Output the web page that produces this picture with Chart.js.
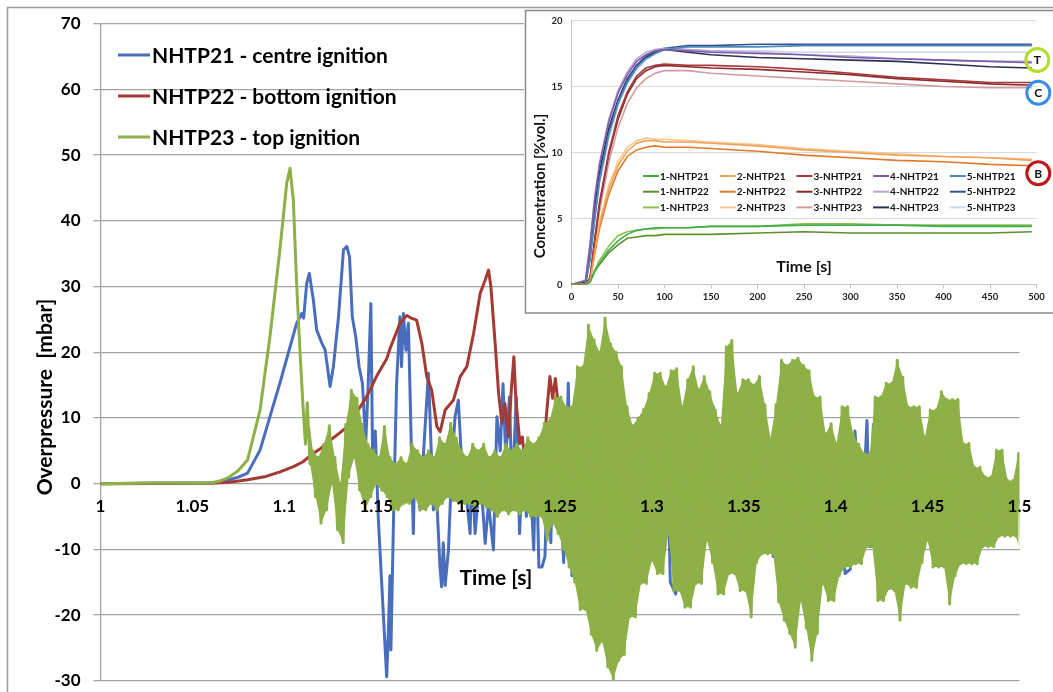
<!DOCTYPE html>
<html>
<head>
<meta charset="utf-8">
<script src="https://cdn.jsdelivr.net/npm/chart.js@4.4.0/dist/chart.umd.min.js"></script>
<style>
  html,body{margin:0;padding:0;background:#fff;}
  #wrap{position:relative;width:1053px;height:692px;overflow:hidden;}
  #main{position:absolute;left:0;top:0;}
  #inset{position:absolute;left:524px;top:9px;}
</style>
</head>
<body>
<div id="wrap">
  <canvas id="main" width="1053" height="704"></canvas>
  <canvas id="inset" width="529" height="306"></canvas>
</div>
<script>
// ---------- main chart: overpressure [mbar] vs time [s] ----------
const seriesNames = ['NHTP21 - centre ignition', 'NHTP22 - bottom ignition', 'NHTP23 - top ignition'];

const blueT = [1.000,1.030,1.060,1.065,1.070,1.075,1.080,1.0868,1.0922,1.0976,1.1031,1.1067,1.1095,1.1105,1.1122,1.1136,1.1158,1.1176,1.1204,1.1222,
  1.1249,1.1267,1.1295,1.1322,1.1340,1.1355,1.1370,1.1389,1.1407,1.1425,1.1443,1.1455,1.1471,1.1480,1.1495,1.1511,1.1530,1.1557,1.1566,1.1575,
  1.1580,1.1598,1.1611,1.1629,1.1638,1.1648,1.1662,1.1675,1.1684,1.1693,1.1702,1.1711,1.1738,1.1756,1.1784,1.1793,1.1811,1.1829,1.1847,1.1856,
  1.1865,1.1875,1.1893,1.1911,1.1929,1.1947,1.1965,1.1984,1.2011,1.2020,1.2038,1.2066,1.2093,1.2111,1.2138,1.2157,1.2175,1.2190,1.2205,1.2225,
  1.2240,1.2262,1.2280,1.2298,1.2317,1.2335,1.2357,1.2370,1.2385,1.2402,1.2418,1.2435,1.2450,1.2465,1.2493,1.2505,1.2520,1.2545,1.2565,1.2600,
  1.2640,1.2680,1.2720,1.2760,1.2800,1.2840,1.2885,1.2920,1.2950,1.2990,1.3030,1.3080,1.3100,1.3130,1.3160,1.3200,1.3240,1.3280,1.3334,1.3370,
  1.3410,1.3450,1.3500,1.3550,1.3600,1.3630,1.3660,1.3695,1.3730,1.3780,1.3830,1.3880,1.3933,1.3970,1.4010,1.4051,1.4080,1.4105,1.4140,1.4170,
  1.4187,1.4205,1.4240,1.4300,1.4360,1.4420,1.4480,1.4550,1.4620,1.4700,1.4800,1.4900,1.5000];
const blueV = [0,0.1,0.1,0.3,0.6,1.0,1.6,5.1,10.2,15.3,20.8,24.4,25.9,25.2,30.5,32.0,28.0,23.4,21.4,20.4,
  14.8,17.8,25.4,35.6,36.1,34.5,25.4,22.3,17.8,15.3,6.2,14,27.4,5.1,8,-5,-15.2,-29.4,-22.8,-14,
  -25.3,0,15.2,25.4,17.8,25.9,20.3,24.4,14.2,3.1,-7.6,5.1,-4,4,16.8,10,-4,-2,-12.7,-15.7,
  -9,-15.5,-10.1,2.6,10.2,12.7,3.1,0,-7.6,3,-7.6,2,-9.1,-3,-10.1,10.2,5,15.2,4,13.2,
  -2,13.2,-7.6,4,-5,3,-10.1,6,-12.7,-12.7,-11.1,4,-9,8,8,-3,-12,15.3,-14,12,
  -18,14,-14,10,-12,9,-9.5,8,-10,11,-9,12.2,-15,-16.8,9,-12,12,-9,11.7,-12,
  12,-12,10,-12,6,7.1,-11.1,7.1,-14,12,-15,10,6.1,-10,6,-13.7,-13,8,-9,9.6,
  -9.6,9,-12,10,-10,9,-10,6,-7,3,-5,2,-3];

const redT = [1.000,1.060,1.070,1.080,1.090,1.0977,1.105,1.110,1.1157,1.120,1.125,1.130,1.134,1.138,1.143,1.1466,1.1503,1.1557,1.1576,1.1629,
  1.1666,1.169,1.172,1.1748,1.1775,1.1802,1.183,1.1848,1.1875,1.192,1.1957,1.1993,1.203,1.2066,1.2093,1.2111,1.2124,1.2147,1.2166,1.2184,
  1.2200,1.2220,1.2235,1.2249,1.2260,1.2282,1.2295,1.2310,1.2340,1.2370,1.2400,1.2425,1.2445,1.2460,1.2475,1.2490,1.2505,1.2520,1.2535,1.2560,1.2600];
const redV = [0,0.05,0.2,0.6,1.1,1.8,2.6,3.3,4.6,5.4,6.6,7.7,8.6,10.3,12.4,14.2,16.4,19,20.6,24.4,
  25.6,25.2,24.9,21.4,16.3,14.2,8.7,7.9,11.2,12.7,16.3,17.8,22.9,29,31,32.5,30,21.4,13.7,9.2,
  12.2,7.1,14.2,19.3,12.7,6.1,7.1,3,-2,4,-4.5,10,16.3,13,16,12,5,-5.5,2,-3,2];

// green: clean pulse, then the noisy tail read as local max / min pairs
const greenT = [1.000,1.030,1.060,1.065,1.070,1.075,1.080,1.0868,1.0922,1.0976,1.1013,1.1031,1.1049,1.1067,1.1085,1.1103,1.1115];
const greenV = [0,0.1,0.1,0.4,1.0,2.0,3.6,11.2,22.4,35.6,45.7,48.0,43.2,30.5,20.3,11.2,6];
const noiseStart = 1.1125, noiseStep = 0.003;
const greenHi = [12.3,5,4,6,8.8,4,0,9,14.2,13, 9,6,5,4,8.7,4,3,4,3,6, 5,4,5,4,7,6,9.2,7,5,4, 6,5,6,4,5,4,6,5,6,5,
  7,6,7,9.2,9.7,13.2,13.2,11.7,11.7,17.8, 17.8,24.1,21.9,20,25.2,21.3,20,17.8,11.7,8.8, 10,11.3,13.7,16.8,16.8,14.7,17.2,17.5,11.7,15.8,
  17.8,14.3,16.3,14,11.2,8.8,20.8,21.8,13.7,15.8, 15.8,15,16.3,12,6.9,12,18.8,18,18.8,19.1, 18,17.2,13.2,13.2,7.6,9.1,6.1,11.7,11.7,7.6,
  6,4.6,4.6,13.2,13.2,15.3,15.3,18.8,16.2,11.7, 11.7,11.7,7.1,11.2,11.2,14,12.8,12.8,12.8,6.1, 6.1,2.5,2.5,1,1,5.1,5.1,0.5,0.5,4.6];
const greenLo = [3,-2,-6,-4,0,-7,-9,1,4,-1, -4,-2,0,-1,-2,-4,-4,-3,-3,-2, -4,-4,-3,-4,-3,-2,-2.6,-3,-3,-3, -3.6,-3,-3.6,-4,-5,-4,-4.6,-4,-4.6,-4,
  -5,-5,-5,-8.6,-6,-7.6,-10,-12.7,-15,-19.2, -19.2,-22.9,-25.4,-24,-27.9,-29.8,-26.9,-26,-20.3,-20.3, -15.2,-15.2,-11.7,-13.7,-13.7,-7.6,-16.3,-16.3,-18.8,-18.8,
  -15.2,-15.2,-8.6,-12,-16.8,-16.8,-13.7,-13.7,-16.3,-16.3, -20.3,-12,-10.7,-10.7,-10.7,-18,-20.8,-22.8,-24.9,-17.8, -22,-26.9,-22.8,-15.2,-17.8,-17.8,-14,-12.7,-12.7,-12.2,
  -12.2,-9.6,-9.6,-17.8,-17.8,-16,-16.3,-20.8,-15.2,-15.8, -15.8,-12,-8.6,-12.7,-12.7,-12.7,-18.3,-14,-12.2,-12.2, -12.2,-12.2,-9.6,-9.6,-9.6,-8,-8,-8,-8,-10.7];

const yTicks = {min: -30, max: 70, step: 10};
const xTicks = {min: 1, max: 1.5, step: 0.05};

// ---------- inset: concentration [%vol.] vs time [s] ----------
const insetTimes = [0,15,20,25,30,40,50,60,70,80,90,100,125,150,200,250,300,350,400,450,495];
const c21_1 = [0,0,0.2,1,1.6,2.6,3.3,3.8,4.1,4.2,4.3,4.3,4.3,4.4,4.4,4.5,4.5,4.5,4.4,4.4,4.4];
const c21_2 = [0,0,0.3,2.5,4.5,7.2,9,10.1,10.7,10.9,10.9,10.8,10.8,10.7,10.5,10.2,10.0,9.8,9.7,9.6,9.4];
const c21_3 = [0,0,0.5,3.5,6.2,10,12.8,14.6,15.8,16.4,16.6,16.7,16.6,16.6,16.5,16.3,16.0,15.7,15.5,15.3,15.3];
const c21_4 = [0,0.3,3,6.5,9,12.3,14.5,15.9,16.9,17.4,17.7,17.8,17.7,17.6,17.5,17.4,17.2,17.1,17.0,16.9,16.8];
const c21_5 = [0,0,2,5,7.8,11.3,13.7,15.3,16.4,17.1,17.5,17.8,18.0,18.0,18.0,18.1,18.1,18.1,18.1,18.1,18.1];
const c22_1 = [0,0,0.2,1,1.5,2.4,3.0,3.5,3.6,3.7,3.7,3.8,3.8,3.8,3.9,4.0,3.9,3.9,3.9,3.9,4.0];
const c22_2 = [0,0,0.3,2.3,4.2,6.8,8.6,9.7,10.2,10.4,10.5,10.4,10.4,10.3,10.1,9.8,9.6,9.4,9.3,9.1,9.0];
const c22_3 = [0,0,0.5,3.3,6,9.8,12.5,14.4,15.6,16.2,16.5,16.6,16.5,16.4,16.3,16.1,15.9,15.6,15.4,15.2,15.1];
const c22_4 = [0,0.3,3.2,6.7,9.2,12.5,14.7,16.1,17.1,17.6,17.8,17.9,17.8,17.7,17.6,17.4,17.3,17.1,17.0,16.9,16.9];
const c22_5 = [0,0,2,5.2,8,11.5,13.9,15.5,16.6,17.3,17.7,17.9,18.1,18.1,18.2,18.2,18.2,18.2,18.2,18.2,18.2];
const c23_1 = [0,0,0.2,1.1,1.8,2.9,3.7,4.0,4.1,4.2,4.2,4.3,4.3,4.4,4.4,4.6,4.6,4.5,4.5,4.5,4.5];
const c23_2 = [0,0,0.4,2.6,4.7,7.5,9.3,10.4,10.9,11.1,11.0,11.0,10.9,10.8,10.6,10.3,10.1,9.9,9.7,9.6,9.5];
const c23_3 = [0,0,0.4,3,5.5,9.2,11.9,13.7,14.9,15.6,16.0,16.2,16.2,16.0,15.8,15.6,15.4,15.2,15.0,14.9,14.9];
const c23_4 = [0,0.2,2.5,6,8.5,11.8,14,15.6,16.6,17.2,17.6,17.8,17.6,17.4,17.2,17.1,17.0,16.9,16.7,16.5,16.4];
const c23_5 = [0,0,1.8,4.8,7.5,11,13.5,15.2,16.3,17.0,17.5,17.8,17.8,17.7,17.7,17.6,17.6,17.6,17.6,17.6,17.6];
const insetNames = ['1-NHTP21','2-NHTP21','3-NHTP21','4-NHTP21','5-NHTP21',
                    '1-NHTP22','2-NHTP22','3-NHTP22','4-NHTP22','5-NHTP22',
                    '1-NHTP23','2-NHTP23','3-NHTP23','4-NHTP23','5-NHTP23'];
const insetSeries = [c21_1,c21_2,c21_3,c21_4,c21_5, c22_1,c22_2,c22_3,c22_4,c22_5, c23_1,c23_2,c23_3,c23_4,c23_5];
const insetMarks = ['T','C','B'];

// ---------- styles ----------
const mainColors = ['#4a6ebe', '#a53a34', '#8db047'];
const insetColors = ['#3fae49','#f0a35a','#a8383a','#7a5ca8','#4a8fb3',
                     '#5e8f2c','#e07a2a','#8a2b2e','#b9a6d6','#3a4f9c',
                     '#8cc152','#f6c890','#d39b9b','#2b2f55','#c9d7ee'];
const markColors = ['#b5dd2e','#3a8ee6','#c0171b'];
const FONT = 'Lato';

function pts(ts, vs){ return ts.map((t,i)=>({x:t,y:vs[i]})); }

const greenNoise = [];
greenHi.forEach((h,i)=>{
  const t = noiseStart + i*noiseStep;
  greenNoise.push({x:t, y:h});
  greenNoise.push({x:t + noiseStep/2, y:greenLo[i]});
});
const greenData = pts(greenT, greenV).concat(greenNoise);
const bandHi = greenHi.map((h,i)=>({x:noiseStart + i*noiseStep, y:h}));
const bandLo = greenLo.map((l,i)=>({x:noiseStart + i*noiseStep + noiseStep/2, y:l}));

const mainDecor = {
  id:'mainDecor',
  beforeDraw(chart){
    const c = chart.ctx;
    c.save();
    c.fillStyle = '#fff'; c.fillRect(0,0,chart.width,chart.height);
    c.strokeStyle = '#9a9a9a'; c.lineWidth = 1.5;
    c.beginPath(); c.moveTo(7.5,chart.height); c.lineTo(7.5,7.5); c.lineTo(chart.width,7.5); c.stroke();
    c.restore();
  },
  afterDraw(chart){
    const c = chart.ctx;
    c.save();
    c.fillStyle = '#000';
    c.font = 'bold 21px ' + FONT;
    c.textAlign = 'center'; c.textBaseline = 'middle';
    c.fillText('Time [s]', 496, 578);
    c.save();
    c.translate(45, 397); c.rotate(-Math.PI/2);
    c.fillText('Overpressure  [mbar]', 0, 0);
    c.restore();
    // legend
    c.textAlign = 'left';
    seriesNames.forEach((name,i)=>{
      const y = 55 + i*41;
      c.strokeStyle = mainColors[i]; c.lineWidth = 3;
      c.beginPath(); c.moveTo(118,y); c.lineTo(150,y); c.stroke();
      c.fillText(name, 152, y + 1);
    });
    c.restore();
  }
};

new Chart(document.getElementById('main'), {
  type:'line',
  data:{datasets:[
    {label:seriesNames[0], data:pts(blueT,blueV), borderColor:mainColors[0], borderWidth:3, order:3},
    {label:seriesNames[1], data:pts(redT,redV), borderColor:mainColors[1], borderWidth:3, order:2},
    {label:seriesNames[2], data:greenData, borderColor:mainColors[2], borderWidth:3, order:0},
    {label:'', data:bandHi, borderWidth:0, borderColor:'rgba(0,0,0,0)', backgroundColor:mainColors[2], fill:'+1', order:1},
    {label:'', data:bandLo, borderWidth:0, borderColor:'rgba(0,0,0,0)', fill:false, order:1}
  ]},
  options:{
    responsive:false, animation:false,
    layout:{padding:{top:23.7, right:33.5, bottom:0, left:0}},
    plugins:{legend:{display:false}, tooltip:{enabled:false}},
    elements:{point:{radius:0}, line:{tension:0, borderJoinStyle:'round'}},
    scales:{
      x:{type:'linear', min:xTicks.min, max:xTicks.max, position:{y:0},
         afterFit:s=>{ s.height = 0; },
         grid:{display:false}, border:{display:false},
         ticks:{z:1, stepSize:xTicks.step, padding:5, color:'#000', maxRotation:0, autoSkip:false,
                font:{family:FONT, weight:'bold', size:17},
                callback:v=>String(+v.toFixed(2))}},
      y:{min:yTicks.min, max:yTicks.max,
         afterFit:s=>{ s.width = 100.5; },
         grid:{color:'#a3a3a3', lineWidth:1.3, tickLength:7}, border:{color:'#a3a3a3', width:1.3},
         ticks:{stepSize:yTicks.step, padding:13, color:'#000', font:{family:FONT, weight:'bold', size:17}}}
    }
  },
  plugins:[mainDecor]
});

// ---------- inset chart ----------
const insetDecor = {
  id:'insetDecor',
  beforeDraw(chart){
    const c = chart.ctx;
    c.save();
    c.fillStyle = '#fff'; c.fillRect(0,0,chart.width,chart.height);
    c.strokeStyle = '#8a8a8a'; c.lineWidth = 1.5;
    c.beginPath(); c.moveTo(chart.width,1.5); c.lineTo(1.5,1.5); c.lineTo(1.5,chart.height-2); c.lineTo(chart.width,chart.height-2); c.stroke();
    c.restore();
  },
  afterDraw(chart){
    const c = chart.ctx;
    c.save();
    c.fillStyle = '#111';
    c.textBaseline = 'middle';
    // legend grid, 5 columns x 3 rows
    c.font = 'bold 10px ' + FONT;
    c.textAlign = 'left';
    insetNames.forEach((name,k)=>{
      const col = k % 5, row = Math.floor(k/5);
      const x = 119 + col*76.7, y = 167 + row*15.7;
      c.strokeStyle = insetColors[k]; c.lineWidth = 2;
      c.beginPath(); c.moveTo(x,y); c.lineTo(x+16,y); c.stroke();
      c.fillText(name, x+17, y+0.5);
    });
    c.textAlign = 'center';
    c.font = 'bold 16px ' + FONT;
    c.fillText('Time [s]', 280, 258);
    c.save();
    c.translate(16.5, 177); c.rotate(-Math.PI/2);
    c.font = 'bold 15px ' + FONT;
    c.fillText('Concentration [%vol.]', 0, 0);
    c.restore();
    // group marks
    const marks = [[513.3,51],[514.3,83.7],[514.3,164.3]];
    insetMarks.forEach((m,i)=>{
      c.strokeStyle = markColors[i]; c.lineWidth = 3;
      c.beginPath(); c.arc(marks[i][0], marks[i][1], 11.5, 0, Math.PI*2); c.stroke();
      c.fillStyle = '#111'; c.font = 'bold 12px ' + FONT;
      c.fillText(m, marks[i][0], marks[i][1] + 0.5);
    });
    c.restore();
  }
};

new Chart(document.getElementById('inset'), {
  type:'line',
  data:{datasets: insetSeries.map((s,k)=>({
    label:insetNames[k], data:pts(insetTimes, s), borderColor:insetColors[k], borderWidth:1.6
  }))},
  options:{
    responsive:false, animation:false,
    layout:{padding:{top:11.5, right:16.5, bottom:0, left:0}},
    plugins:{legend:{display:false}, tooltip:{enabled:false}},
    elements:{point:{radius:0}, line:{tension:0}},
    scales:{
      x:{type:'linear', min:0, max:500,
         afterFit:s=>{ s.height = 30.5; },
         grid:{drawOnChartArea:false, tickLength:4, color:'#c4c4c4'}, border:{color:'#c4c4c4'},
         ticks:{stepSize:50, padding:3, color:'#222', maxRotation:0, font:{family:FONT, weight:'bold', size:9.5}}},
      y:{min:0, max:20,
         afterFit:s=>{ s.width = 47.5; },
         grid:{color:'#dadada', tickLength:4, tickColor:'rgba(0,0,0,0)'}, border:{color:'#c4c4c4'},
         ticks:{stepSize:5, padding:5, color:'#222', font:{family:FONT, weight:'bold', size:9.5}}}
    }
  },
  plugins:[insetDecor]
});
</script>
</body>
</html>
